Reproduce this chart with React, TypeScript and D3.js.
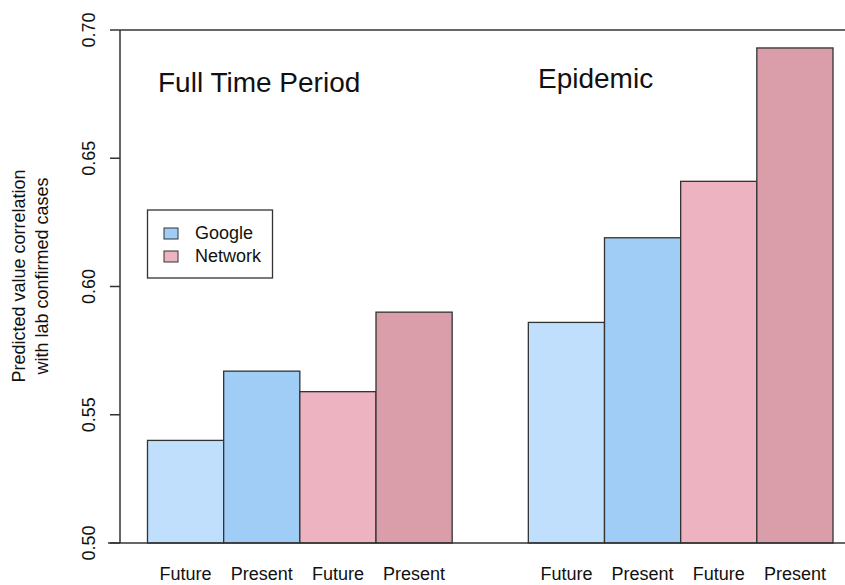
import React from "react";
import * as d3 from "d3";

const groups = ["Full Time Period", "Epidemic"];
const barLabels = ["Future", "Present", "Future", "Present"];
const seriesNames = ["Google", "Network"];
const fullTimeValues = [0.54, 0.567, 0.559, 0.59];
const epidemicValues = [0.586, 0.619, 0.641, 0.693];
const barColors = ["#bfdffc", "#9fcdf5", "#edb3c0", "#da9eab"];
const legendColors = ["#9fcdf5", "#edb3c0"];
const yTicks = [0.5, 0.55, 0.6, 0.65, 0.7];

const W = 845;
const H = 585;
const FONT = "'Liberation Sans', Arial, Helvetica, sans-serif";
const STROKE = "#333333";

export default function App() {
  const y = d3.scaleLinear().domain([0.5, 0.7]).range([543, 30]);
  const x = d3.scaleLinear().domain([0, 9]).range([147.5, 833]);
  const bw = x(1) - x(0);
  const groupValues = [fullTimeValues, epidemicValues];
  const titlePos = [
    { x: 158, y: 92 },
    { x: 538, y: 88 },
  ];

  const bars: { key: string; x0: number; v: number; color: string; label: string }[] = [];
  groupValues.forEach((vals, g) => {
    vals.forEach((v, b) => {
      bars.push({ key: `${g}-${b}`, x0: x(g * 5 + b), v, color: barColors[b], label: barLabels[b] });
    });
  });

  return (
    <svg
      width={W}
      height={H}
      style={{ position: "absolute", left: 0, top: 0, background: "#fff" }}
      fontFamily={FONT}
    >
      <rect x={0} y={0} width={W} height={H} fill="#fff" />
      {bars.map((d) => (
        <g key={d.key}>
          <rect
            x={d.x0}
            y={y(d.v)}
            width={bw}
            height={y(0.5) - y(d.v)}
            fill={d.color}
            stroke={STROKE}
            strokeWidth={1.3}
          />
          <text x={d.x0 + bw / 2} y={580} textAnchor="middle" fontSize={18} fill="#111">
            {d.label}
          </text>
        </g>
      ))}
      <line x1={120} x2={120} y1={y(0.7)} y2={y(0.5)} stroke={STROKE} strokeWidth={1.5} />
      <line x1={120} x2={W} y1={y(0.7)} y2={y(0.7)} stroke={STROKE} strokeWidth={1.5} />
      <line x1={108} x2={W} y1={y(0.5)} y2={y(0.5)} stroke={STROKE} strokeWidth={1.5} />
      {yTicks.map((t) => (
        <g key={t}>
          <line x1={110} x2={120} y1={y(t)} y2={y(t)} stroke={STROKE} strokeWidth={1.5} />
          <text
            transform={`translate(95,${y(t)}) rotate(-90)`}
            textAnchor="middle"
            fontSize={18}
            fill="#111"
          >
            {d3.format(".2f")(t)}
          </text>
        </g>
      ))}
      <text transform="translate(25,276) rotate(-90)" textAnchor="middle" fontSize={18} fill="#111">
        Predicted value correlation
      </text>
      <text transform="translate(48,276) rotate(-90)" textAnchor="middle" fontSize={18} fill="#111">
        with lab confirmed cases
      </text>
      {groups.map((g, i) => (
        <text key={g} x={titlePos[i].x} y={titlePos[i].y} fontSize={28} fill="#111">
          {g}
        </text>
      ))}
      <rect x={147.5} y={210} width={125} height={68} fill="#fff" stroke={STROKE} strokeWidth={1.3} />
      {seriesNames.map((s, i) => (
        <g key={s}>
          <rect
            x={164}
            y={228 + i * 23}
            width={14}
            height={11}
            fill={legendColors[i]}
            stroke={STROKE}
            strokeWidth={1}
          />
          <text x={195} y={239 + i * 23} fontSize={18} fill="#111">
            {s}
          </text>
        </g>
      ))}
    </svg>
  );
}
